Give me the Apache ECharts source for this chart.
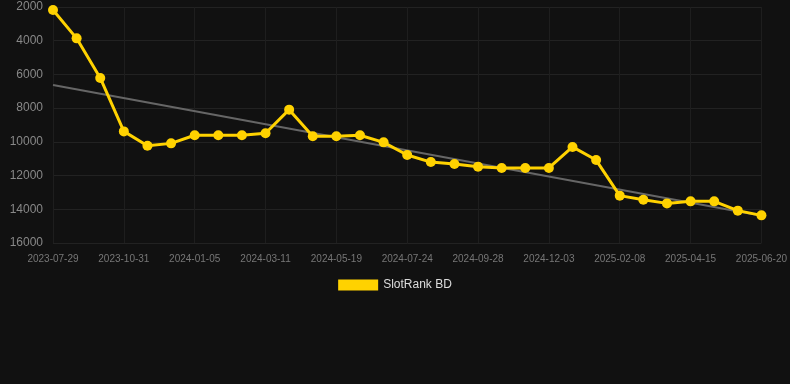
<!DOCTYPE html>
<html>
<head>
<meta charset="utf-8">
<script src="https://cdn.jsdelivr.net/npm/echarts@6/dist/echarts.min.js"></script>
<style>
html,body{margin:0;padding:0;background:#111111;}
#chart{width:790px;height:384px;}
</style>
</head>
<body>
<div id="chart"></div>
<script>
var categories = [
  '2023-07-29','2023-08-29','2023-09-30','2023-10-31','2023-11-22','2023-12-14',
  '2024-01-05','2024-01-27','2024-02-18','2024-03-11','2024-04-03','2024-04-26',
  '2024-05-19','2024-06-09','2024-07-02','2024-07-24','2024-08-15','2024-09-06',
  '2024-09-28','2024-10-20','2024-11-11','2024-12-03','2024-12-25','2025-01-17',
  '2025-02-08','2025-03-01','2025-03-23','2025-04-15','2025-05-07','2025-05-29',
  '2025-06-20'
];
var rankValues = [
  2180, 3860, 6210, 9380, 10230, 10090,
  9610, 9610, 9610, 9490, 8090, 9670,
  9670, 9610, 10030, 10780, 11200, 11310,
  11470, 11550, 11550, 11550, 10300, 11080,
  13190, 13430, 13650, 13530, 13530, 14080,
  14360
];
var trendStart = 6630;
var trendEnd = 14380;
var yTicks = [2000, 4000, 6000, 8000, 10000, 12000, 14000, 16000];
var seriesName = 'SlotRank BD';

var chart = echarts.init(document.getElementById('chart'));
chart.setOption({
  backgroundColor: '#111111',
  animation: false,
  grid: {left: 53, right: 28, top: 7, bottom: 141},
  legend: {
    bottom: 88,
    left: 'center',
    itemWidth: 40,
    itemHeight: 11,
    itemGap: 10,
    textStyle: {color: '#dddddd', fontSize: 12, fontFamily: 'Arial, Liberation Sans, sans-serif'},
    data: [{name: seriesName, icon: 'rect'}]
  },
  xAxis: {
    type: 'category',
    data: categories,
    boundaryGap: false,
    axisLine: {show: false},
    axisTick: {show: false},
    axisLabel: {
      interval: 2,
      color: '#777777',
      fontSize: 10,
      margin: 11,
      fontFamily: 'Arial, Liberation Sans, sans-serif'
    },
    splitLine: {show: true, interval: 2, lineStyle: {color: '#1e1e1e', width: 1}}
  },
  yAxis: {
    type: 'value',
    inverse: true,
    min: yTicks[0],
    max: yTicks[yTicks.length - 1],
    interval: 2000,
    axisLine: {show: false},
    axisTick: {show: false},
    axisLabel: {
      color: '#888888',
      fontSize: 12,
      margin: 10,
      formatter: function (v) { return String(v); },
      fontFamily: 'Arial, Liberation Sans, sans-serif'
    },
    splitLine: {lineStyle: {color: '#222222', width: 1}}
  },
  series: [
    {
      name: 'trend',
      type: 'line',
      data: [[categories[0], trendStart], [categories[categories.length - 1], trendEnd]],
      symbol: 'none',
      lineStyle: {color: '#666666', width: 2},
      z: 1,
      silent: true
    },
    {
      name: seriesName,
      type: 'line',
      data: rankValues,
      symbol: 'circle',
      symbolSize: 10,
      itemStyle: {color: '#FFD200'},
      lineStyle: {color: '#FFD200', width: 3},
      z: 2
    }
  ]
});
</script>
</body>
</html>
